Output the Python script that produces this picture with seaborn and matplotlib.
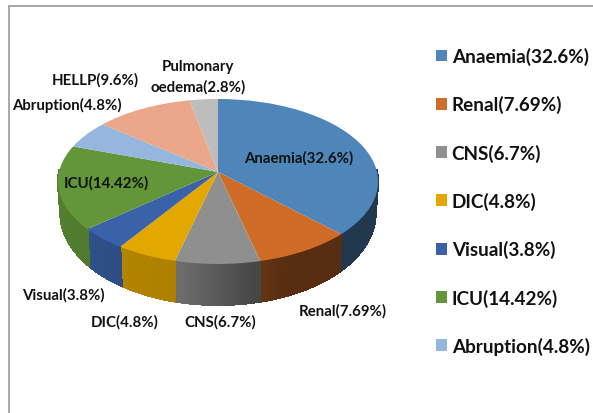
import numpy as np
import matplotlib
matplotlib.use("Agg")
import matplotlib.pyplot as plt
from matplotlib.patches import Polygon, Patch
from matplotlib.transforms import Transform
from matplotlib.lines import Line2D
import seaborn as sns

categories = ["Anaemia", "Renal", "CNS", "DIC", "Visual", "ICU", "Abruption", "HELLP", "Pulmonary\noedema"]
values = [32.6, 7.69, 6.7, 4.8, 3.8, 14.42, 4.8, 9.6, 2.8]
value_text = ["32.6", "7.69", "6.7", "4.8", "3.8", "14.42", "4.8", "9.6", "2.8"]
colors = ["#4F86B9", "#CF6D28", "#8F8F8F", "#E3A800", "#3A62A8", "#629638", "#95B6DD", "#EBA78A", "#BDBDBD"]
legend_count = 7

labels = [f"{c}({t}%)" for c, t in zip(categories, value_text)]
label_xy = [(299, 158), (343, 311), (220, 322), (125, 322), (63, 295), (106, 183), (67, 105), (95, 80), (198, 77)]

CX, CY, RX, RY, K = 218.0, 173.0, 159.0, 81.4, 0.115
FONT = "Lato"


class Tilt(Transform):
    input_dims = 2
    output_dims = 2

    def transform_non_affine(self, values):
        xy = np.asarray(values, dtype=float)
        w = 1 + K * xy[:, 1]
        return np.column_stack([CX + RX * xy[:, 0] / w, CY - RY * xy[:, 1] / w])


def project_bottom(u, v):
    w = 1 + K * v
    depth = 30 - 11 * v
    return CX + 0.985 * RX * u / w, CY - RY * v / w + depth


sns.set_theme(style="white")
fig, ax = plt.subplots(figsize=(5.93, 4.14), dpi=100)
fig.subplots_adjust(0, 0, 1, 1)
palette = sns.color_palette(colors)

wedges, _ = ax.pie(values, colors=palette, startangle=90, counterclock=False,
                   radius=1, wedgeprops={"linewidth": 0})
ax.set_aspect("auto")
ax.set_xlim(0, 593)
ax.set_ylim(414, 0)
ax.axis("off")

tilt = Tilt()
for wedge in wedges:
    wedge.set_transform(tilt + ax.transData)
    wedge.set_zorder(3)

# side wall of the pie, one thin strip per degree
for wedge, col in zip(wedges, palette):
    a1, a2 = wedge.theta1 % 360, wedge.theta2 % 360
    if a2 <= a1:
        a2 += 360
    grid = np.arange(np.floor(a1), np.ceil(a2) + 1)
    grid = np.clip(grid, a1, a2)
    for t0, t1 in zip(grid[:-1], grid[1:]):
        if np.sin(np.radians(t0)) > 0.02 and np.sin(np.radians(t1)) > 0.02:
            continue
        th = np.radians([t0, t1])
        u, v = np.cos(th), np.sin(th)
        top = tilt.transform_non_affine(np.column_stack([u, v]))
        bx, by = project_bottom(u, v)
        poly = np.array([top[0], top[1], [bx[1], by[1]], [bx[0], by[0]]])
        shade = np.interp(u.mean(), [-1, -0.5, -0.2, 0.2, 0.4, 1], [0.85, 0.78, 0.76, 0.5, 0.42, 0.42])
        c = tuple(np.array(col) * shade)
        ax.add_patch(Polygon(poly, closed=True, facecolor=c, edgecolor=c, linewidth=0.8,
                             antialiased=False, zorder=2))

# chart frame
ax.add_line(Line2D([9, 593], [7, 7], color="#999999", lw=1.2, zorder=1))
ax.add_line(Line2D([9, 9], [7, 414], color="#999999", lw=1.2, zorder=1))

for text, (x, y) in zip(labels, label_xy):
    ax.text(x, y, text, ha="center", va="center", fontsize=10.8, fontweight="bold",
            family=FONT, color="#111111", zorder=5, linespacing=1.5)

handles = [Patch(facecolor=c, edgecolor="none") for c in palette[:legend_count]]
ax.legend(handles, labels[:legend_count], loc="upper left", bbox_to_anchor=(436 / 593, 1 - 48 / 414),
          bbox_transform=fig.transFigure, frameon=False, borderpad=0, borderaxespad=0,
          prop={"family": FONT, "weight": "bold", "size": 13.6},
          labelspacing=1.6, handlelength=0.58, handleheight=0.58, handletextpad=0.25,
          labelcolor="#111111")

fig.savefig("out.png", dpi=100)
